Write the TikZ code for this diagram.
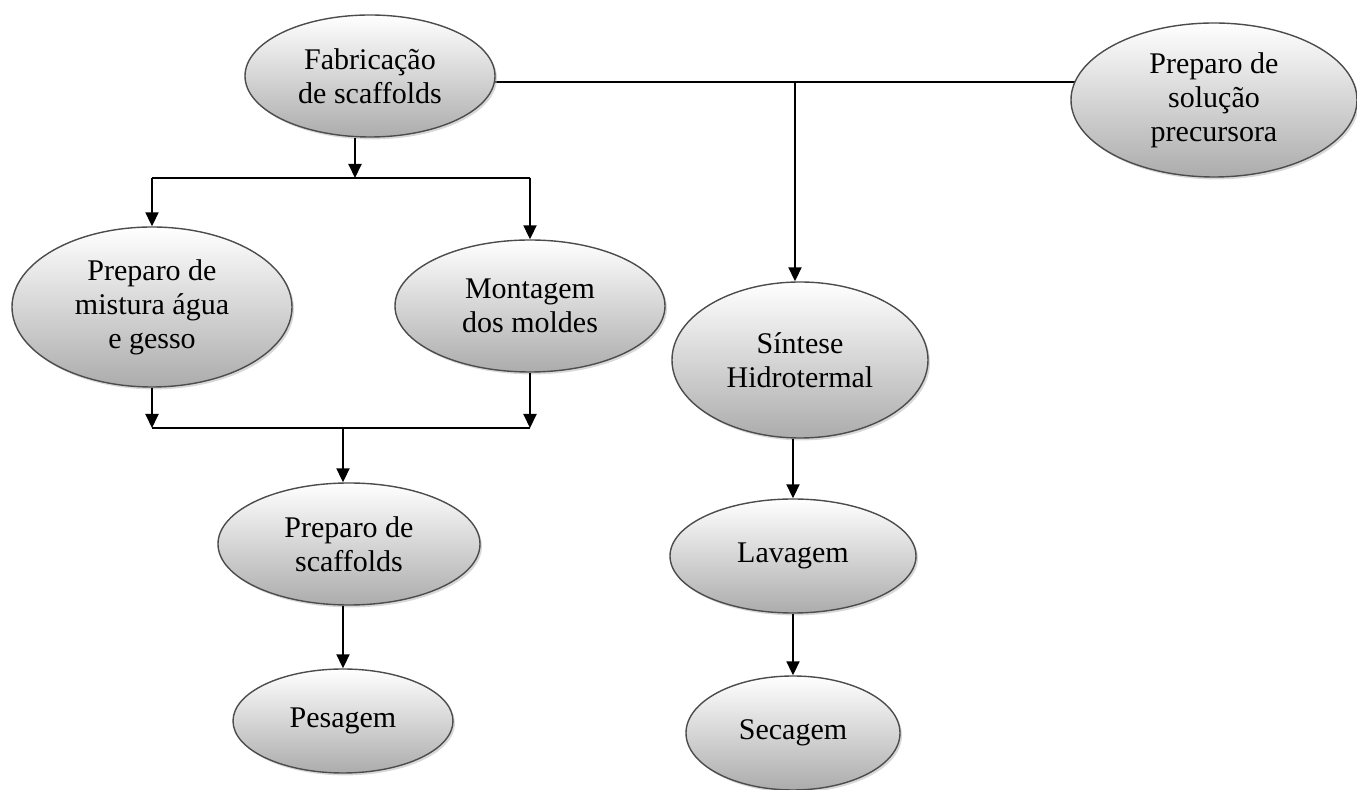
\documentclass[tikz,border=0pt]{standalone}
\usepackage{fontspec}
\setmainfont{Liberation Serif}
\usetikzlibrary{arrows.meta,shapes.geometric,shadows,backgrounds}
\begin{document}
\begin{tikzpicture}[
        x=0.5pt, y=-0.5pt,
        every node/.style={ellipse, draw=gray!60!black, line width=0.7pt, inner sep=0pt,
            align=center, top color=white, bottom color=gray!65,
            drop shadow={shadow xshift=1pt, shadow yshift=-1.2pt, fill=gray!60, opacity=.5},
            font=\fontsize{15}{17}\selectfont},
        line/.style={draw, line width=1pt},
        arr/.style={line, -{Triangle[width=6.5pt, length=7pt]}},
    ]
    \useasboundingbox (0,0) rectangle (1357,790);
    \node[minimum width=125pt, minimum height=61pt](fab) at (370,76){Fabricação\\de scaffolds};
    \node[minimum width=143pt, minimum height=77pt](sol) at (1214,100){Preparo de\\solução\\precursora};
    \node[minimum width=140pt, minimum height=80pt](mist) at (152,307){Preparo de\\mistura água\\e gesso};
    \node[minimum width=135pt, minimum height=66pt](mont) at (530,306){Montagem\\dos moldes};
    \node[minimum width=131pt, minimum height=61pt](prep) at (349,544){Preparo de\\scaffolds};
    \node[minimum width=110pt, minimum height=52pt](pes) at (343,721){Pesagem};
    \node[minimum width=128pt, minimum height=78pt](sint) at (800,360){Síntese\\Hidrotermal};
    \node[minimum width=123pt, minimum height=57pt](lav) at (793,556){Lavagem};
    \node[minimum width=107pt, minimum height=57pt](sec) at (793,733){Secagem};

    \coordinate (split) at (355,178);
    \coordinate (merge) at (343,428);
    \coordinate (br) at (795,82);

    \begin{pgfonlayer}{background}
        \draw[line] (fab.center |- br) -- (sol.center |- br);
    \end{pgfonlayer}
    \draw[arr] (br) -- (br |- sint.north);
    \draw[arr] (split |- fab.south) -- (split);
    \draw[line] (split -| mist) -- (split -| mont);
    \draw[arr] (split -| mist) -- (mist.north);
    \draw[arr] (split -| mont) -- (mont.north);
    \draw[arr] (mist.south) -- (merge -| mist);
    \draw[arr] (mont.south) -- (merge -| mont);
    \draw[line] (merge -| mist) -- (merge -| mont);
    \draw[arr] (merge) -- (merge |- prep.north);
    \draw[arr] (prep.south -| pes) -- (pes.north);
    \draw[arr] (sint.south -| lav) -- (lav.north);
    \draw[arr] (lav.south) -- (sec.north);

    \end{tikzpicture}
\end{document}
